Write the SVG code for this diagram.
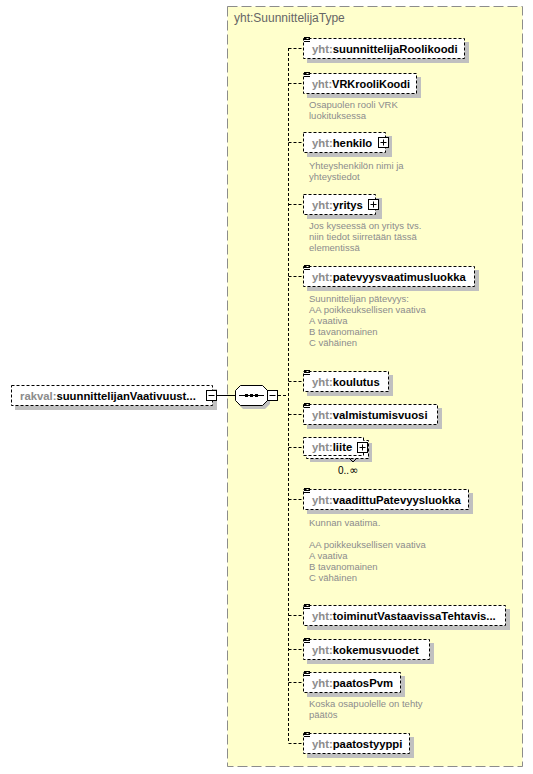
<svg xmlns="http://www.w3.org/2000/svg" width="533" height="774" viewBox="0 0 533 774">
<style>
.bg{fill:#fff}
.cont{fill:#ffffcc;stroke:#8c8c8c;stroke-dasharray:10,4}
.title{font-family:"Liberation Sans",Arial,sans-serif;font-size:12px;fill:#666}
.sh{fill:#c0c0c0}
.box{fill:#fff;stroke:#000;stroke-dasharray:3,2}
.pm{fill:#fff;stroke:#000}
.ln{stroke:#000;fill:none}
.name{font-family:"Liberation Sans",Arial,sans-serif;font-size:11.3px;font-weight:bold;fill:#000}
.pfx{fill:#8c8c8c}
.desc{font-family:"Liberation Sans",Arial,sans-serif;font-size:9.5px;fill:#8c8c8c}
.occ{font-family:"Liberation Sans",Arial,sans-serif;font-size:10px;fill:#000}
.inf{font-family:"DejaVu Sans",sans-serif;font-size:11px}
.conn{stroke:#000;fill:none;stroke-dasharray:3,2}
</style>
<defs>
<g id="icon"><path d="M1 0.5h6M1 2.5h6M1 4.5h6" stroke="#000" fill="none"/></g>
<g id="plus"><rect class="pm" x="0.5" y="0.5" width="10" height="10"/><path d="M2.5 5.5h6M5.5 2.5v6" stroke="#000"/></g>
<g id="minus"><rect class="pm" x="0.5" y="0.5" width="10" height="10"/><path d="M2.5 5.5h6" stroke="#000"/></g>
</defs>
<rect class="bg" width="533" height="774"/>
<g id="container">
<rect class="cont" x="227.5" y="6.5" width="295" height="760"/>
<text class="title" x="234" y="22">yht:SuunnittelijaType</text>
</g>
<g id="connectors">
<path class="ln" d="M217 395.5H235"/>
<path class="conn" d="M278 395.5H288.5"/>
<path class="conn" d="M288.5 48V743"/>
<path class="conn" d="M288.5 48.5H303M288.5 83.5H303M288.5 142.5H303M288.5 204.5H303M288.5 276.5H303M288.5 381.5H303M288.5 414.5H303M288.5 447.5H303M288.5 499.5H303M288.5 615.5H303M288.5 649.5H303M288.5 682.5H303M288.5 743.5H303"/>
</g>
<g id="root">
<rect class="sh" x="15" y="389" width="202" height="21"/>
<rect class="box" x="11.5" y="385.5" width="201" height="20"/>
<text class="name" x="20" y="399.5"><tspan class="pfx">rakval:</tspan>suunnittelijanVaativuust...</text>
<use href="#minus" x="206" y="390"/>
</g>
<g id="sequence">
<polygon class="sh" points="243,389 265,389 270,394 270,404 265,409 243,409 238,404 238,394"/>
<polygon class="pm" points="240.5,385.5 262.5,385.5 267.5,390.5 267.5,400.5 262.5,405.5 240.5,405.5 235.5,400.5 235.5,390.5"/>
<path class="ln" d="M239 395.5H264"/>
<rect x="245" y="394" width="3" height="3" fill="#000"/>
<rect x="250" y="394" width="3" height="3" fill="#000"/>
<rect x="255" y="394" width="3" height="3" fill="#000"/>
<use href="#minus" x="267" y="390"/>
</g>
<g id="n1">
<rect class="sh" x="307" y="42" width="162" height="21"/>
<rect class="box" x="303.5" y="38.5" width="161" height="20"/>
<use href="#icon" x="303" y="37"/>
<text class="name" x="312" y="52.5"><tspan class="pfx">yht:</tspan>suunnittelijaRoolikoodi</text>
</g>
<g id="n2">
<rect class="sh" x="307" y="77" width="114" height="21"/>
<rect class="box" x="303.5" y="73.5" width="113" height="20"/>
<use href="#icon" x="303" y="72"/>
<text class="name" x="312" y="87.5" textLength="98" lengthAdjust="spacingAndGlyphs"><tspan class="pfx">yht:</tspan>VRKrooliKoodi</text>
<text class="desc" x="309" y="108">Osapuolen rooli VRK</text>
<text class="desc" x="309" y="119">luokituksessa</text>
</g>
<g id="n3">
<rect class="sh" x="307" y="136" width="85" height="21"/>
<rect class="box" x="303.5" y="132.5" width="82" height="20"/>
<text class="name" x="312" y="146.5"><tspan class="pfx">yht:</tspan>henkilo</text>
<use href="#plus" x="378" y="137"/>
<text class="desc" x="309" y="169">Yhteyshenkilön nimi ja</text>
<text class="desc" x="309" y="180">yhteystiedot</text>
</g>
<g id="n4">
<rect class="sh" x="307" y="198" width="75" height="21"/>
<rect class="box" x="303.5" y="194.5" width="72" height="20"/>
<text class="name" x="312" y="208.5"><tspan class="pfx">yht:</tspan>yritys</text>
<use href="#plus" x="368" y="199"/>
<text class="desc" x="309" y="229">Jos kyseessä on yritys tvs.</text>
<text class="desc" x="309" y="240">niin tiedot siirretään tässä</text>
<text class="desc" x="309" y="251">elementissä</text>
</g>
<g id="n5">
<rect class="sh" x="307" y="270" width="172" height="21"/>
<rect class="box" x="303.5" y="266.5" width="171" height="20"/>
<use href="#icon" x="303" y="265"/>
<text class="name" x="312" y="280.5"><tspan class="pfx">yht:</tspan>patevyysvaatimusluokka</text>
<text class="desc" x="309" y="302">Suunnittelijan pätevyys:</text>
<text class="desc" x="309" y="313">AA poikkeuksellisen vaativa</text>
<text class="desc" x="309" y="324">A  vaativa</text>
<text class="desc" x="309" y="335">B tavanomainen</text>
<text class="desc" x="309" y="346">C vähäinen</text>
</g>
<g id="n6">
<rect class="sh" x="307" y="375" width="86" height="21"/>
<rect class="box" x="303.5" y="371.5" width="85" height="20"/>
<use href="#icon" x="303" y="370"/>
<text class="name" x="312" y="385.5"><tspan class="pfx">yht:</tspan>koulutus</text>
</g>
<g id="n7">
<rect class="sh" x="307" y="408" width="135" height="21"/>
<rect class="box" x="303.5" y="404.5" width="134" height="20"/>
<use href="#icon" x="303" y="403"/>
<text class="name" x="312" y="418.5"><tspan class="pfx">yht:</tspan>valmistumisvuosi</text>
</g>
<g id="n8">
<rect class="sh" x="310" y="443" width="62" height="19"/>
<rect class="box" x="306.5" y="440.5" width="62" height="18"/>
<rect class="box" x="303.5" y="437.5" width="60" height="18"/>
<text class="name" x="312" y="451"><tspan class="pfx">yht:</tspan>liite</text>
<use href="#plus" x="357" y="442"/>
<path class="ln" d="M349 458l4 4 4-4"/>
<text class="occ" x="338" y="474">0..<tspan class="inf">∞</tspan></text>
</g>
<g id="n9">
<rect class="sh" x="307" y="493" width="166" height="21"/>
<rect class="box" x="303.5" y="489.5" width="165" height="20"/>
<use href="#icon" x="303" y="488"/>
<text class="name" x="312" y="503.5"><tspan class="pfx">yht:</tspan>vaadittuPatevyysluokka</text>
<text class="desc" x="309" y="526">Kunnan vaatima.</text>
<text class="desc" x="309" y="548">AA poikkeuksellisen vaativa</text>
<text class="desc" x="309" y="559">A  vaativa</text>
<text class="desc" x="309" y="570">B tavanomainen</text>
<text class="desc" x="309" y="581">C vähäinen</text>
</g>
<g id="n10">
<rect class="sh" x="307" y="609" width="203" height="21"/>
<rect class="box" x="303.5" y="605.5" width="202" height="20"/>
<use href="#icon" x="303" y="604"/>
<text class="name" x="312" y="619.5"><tspan class="pfx">yht:</tspan>toiminutVastaavissaTehtavis...</text>
</g>
<g id="n11">
<rect class="sh" x="307" y="643" width="127" height="21"/>
<rect class="box" x="303.5" y="639.5" width="126" height="20"/>
<use href="#icon" x="303" y="638"/>
<text class="name" x="312" y="653.5"><tspan class="pfx">yht:</tspan>kokemusvuodet</text>
</g>
<g id="n12">
<rect class="sh" x="307" y="676" width="98" height="21"/>
<rect class="box" x="303.5" y="672.5" width="97" height="20"/>
<use href="#icon" x="303" y="671"/>
<text class="name" x="312" y="686.5"><tspan class="pfx">yht:</tspan>paatosPvm</text>
<text class="desc" x="309" y="707">Koska osapuolelle on tehty</text>
<text class="desc" x="309" y="718">päätös</text>
</g>
<g id="n13">
<rect class="sh" x="307" y="737" width="107" height="21"/>
<rect class="box" x="303.5" y="733.5" width="106" height="20"/>
<use href="#icon" x="303" y="732"/>
<text class="name" x="312" y="747.5"><tspan class="pfx">yht:</tspan>paatostyyppi</text>
</g>
</svg>
